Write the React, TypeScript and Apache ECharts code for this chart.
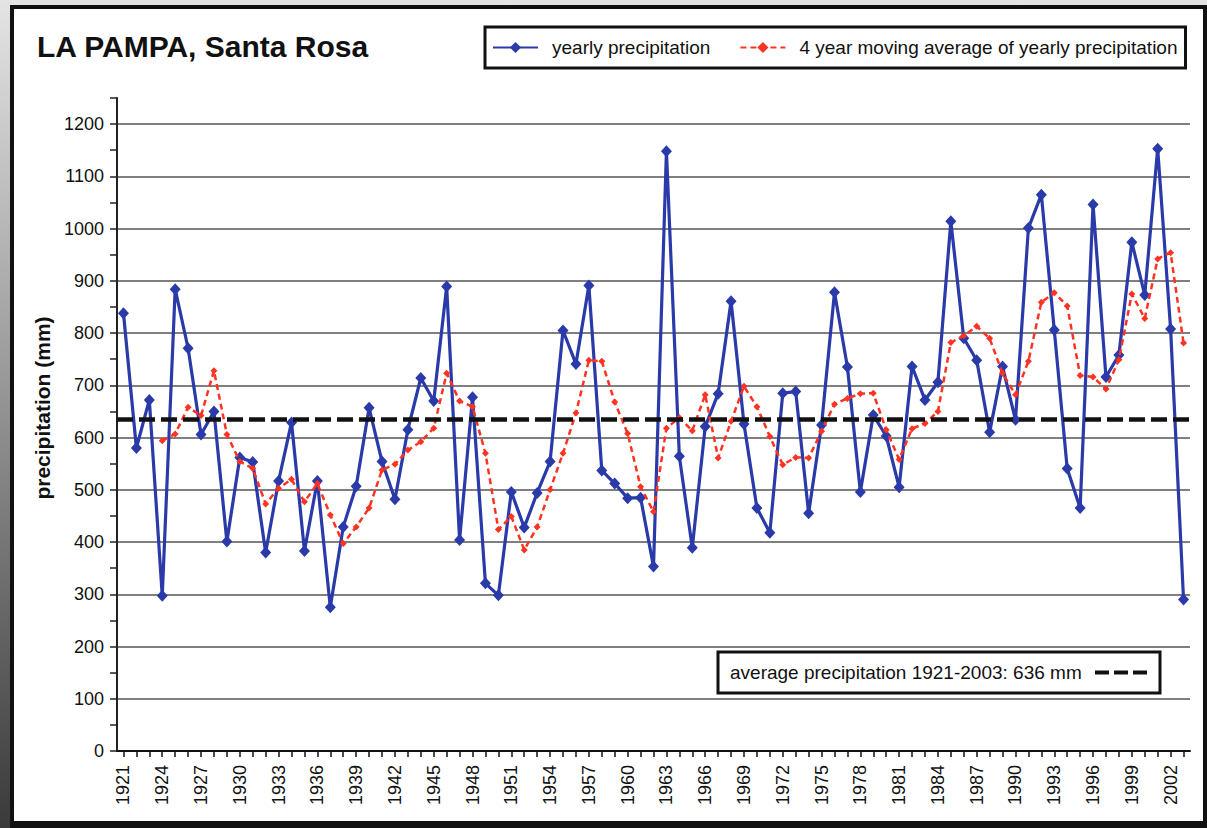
import React, { useEffect, useRef } from "react";
import * as echarts from "echarts";

const years = [
  "1921", "1922", "1923", "1924", "1925", "1926", "1927", "1928", "1929", "1930",
  "1931", "1932", "1933", "1934", "1935", "1936", "1937", "1938", "1939", "1940",
  "1941", "1942", "1943", "1944", "1945", "1946", "1947", "1948", "1949", "1950",
  "1951", "1952", "1953", "1954", "1955", "1956", "1957", "1958", "1959", "1960",
  "1961", "1962", "1963", "1964", "1965", "1966", "1967", "1968", "1969", "1970",
  "1971", "1972", "1973", "1974", "1975", "1976", "1977", "1978", "1979", "1980",
  "1981", "1982", "1983", "1984", "1985", "1986", "1987", "1988", "1989", "1990",
  "1991", "1992", "1993", "1994", "1995", "1996", "1997", "1998", "1999", "2000",
  "2001", "2002", "2003",
];

const yearlyPrecipitation = [
  838, 580, 672, 297, 884, 771, 606, 650, 401, 562,
  553, 380, 517, 629, 383, 517, 275, 429, 507, 657,
  554, 482, 615, 714, 670, 889, 404, 677, 321, 298,
  496, 428, 494, 554, 805, 741, 891, 537, 512, 484,
  485, 353, 1148, 564, 389, 621, 684, 861, 626, 465,
  418, 685, 688, 455, 624, 878, 735, 496, 643, 603,
  505, 736, 672, 706, 1014, 790, 748, 610, 736, 634,
  1001, 1065, 806, 541, 465, 1046, 716, 758, 974, 873,
  1153, 808, 290,
];

const movingAverage = [
  null, null, null, 594, 607, 658, 642, 728, 606, 554,
  541, 473, 503, 520, 477, 512, 452, 397, 429, 465,
  538, 549, 576, 592, 618, 723, 670, 659, 570, 424,
  449, 385, 429, 500, 570, 647, 748, 746, 668, 608,
  506, 458, 618, 638, 613, 682, 561, 631, 698, 659,
  602, 548, 562, 561, 612, 664, 675, 684, 685, 615,
  558, 617, 627, 650, 782, 795, 813, 790, 723, 682,
  746, 859, 877, 852, 719, 716, 693, 749, 875, 828,
  942, 954, 781,
];

const averagePrecipitation = 636;

const titleText = "LA PAMPA, Santa Rosa";
const seriesYearlyName = "yearly precipitation";
const seriesAverageName = "4 year moving average of yearly precipitation";
const yAxisName = "precipitation (mm)";
const averageLabel = "average precipitation 1921-2003: 636 mm";

const FONT = '"Liberation Sans", Arial, Helvetica, sans-serif';
const BLUE = "#2a3aa8";
const RED = "#ff3322";
const INK = "#111111";

export default function App() {
  const ref = useRef<HTMLDivElement>(null);

  useEffect(() => {
    if (!ref.current) return;
    const chart = echarts.init(ref.current, null, { renderer: "svg" });
    chart.setOption({
      animation: false,
      backgroundColor: "#ffffff",
      title: {
        text: titleText,
        left: 23,
        top: 22,
        padding: 0,
        textStyle: { fontFamily: FONT, fontSize: 30, fontWeight: "bold", color: INK },
      },
      legend: {
        data: [seriesYearlyName, seriesAverageName],
        left: 471,
        top: 18,
        orient: "horizontal",
        padding: [11, 8, 11, 7],
        borderColor: INK,
        borderWidth: 3,
        backgroundColor: "#ffffff",
        itemWidth: 45,
        itemHeight: 14,
        itemGap: 29,
        textStyle: { fontFamily: FONT, fontSize: 19, color: INK, padding: [0, 0, 0, 9] },
      },
      grid: { left: 103, right: 13, top: 89, bottom: 70, containLabel: false },
      xAxis: {
        type: "category",
        data: years,
        boundaryGap: true,
        axisLine: { show: true, lineStyle: { color: INK, width: 2 } },
        axisTick: {
          show: true,
          alignWithLabel: true,
          interval: 0,
          length: 6,
          lineStyle: { color: INK, width: 1.5 },
        },
        axisLabel: {
          interval: 2,
          rotate: 90,
          margin: 14,
          fontSize: 18,
          fontFamily: FONT,
          color: INK,
        },
        splitLine: { show: false },
      },
      yAxis: [
        {
          type: "value",
          min: 0,
          max: 1250,
          interval: 50,
          axisLine: { show: true, lineStyle: { color: "#222", width: 2 } },
          axisTick: { show: true, length: 7, lineStyle: { color: "#222", width: 1.5 } },
          axisLabel: {
            margin: 13,
            fontSize: 18,
            fontFamily: FONT,
            color: INK,
            formatter: (v: number) => (v % 100 === 0 && v <= 1200 ? String(v) : ""),
          },
          splitLine: { show: false },
        },
        {
          type: "value",
          min: 0,
          max: 1250,
          interval: 100,
          position: "left",
          axisLine: { show: false },
          axisTick: { show: false },
          axisLabel: { show: false },
          splitLine: {
            show: true,
            showMinLine: false,
            showMaxLine: false,
            lineStyle: { color: "#555", width: 1.5 },
          },
        },
      ],
      series: [
        {
          name: seriesYearlyName,
          type: "line",
          data: yearlyPrecipitation,
          yAxisIndex: 0,
          symbol: "diamond",
          symbolSize: [11, 12],
          showAllSymbol: true,
          lineStyle: { color: BLUE, width: 3.2 },
          itemStyle: { color: BLUE },
          z: 3,
          markLine: {
            silent: true,
            symbol: "none",
            label: { show: false },
            lineStyle: { color: INK, width: 4.5, type: [16, 6] },
            data: [{ yAxis: averagePrecipitation }],
          },
        },
        {
          name: seriesAverageName,
          type: "line",
          data: movingAverage,
          yAxisIndex: 0,
          symbol: "diamond",
          symbolSize: 7,
          showAllSymbol: true,
          connectNulls: false,
          lineStyle: { color: RED, width: 2.5, type: [6, 4] },
          itemStyle: { color: RED },
          z: 4,
        },
      ],
      graphic: [
        {
          type: "text",
          x: 28,
          y: 399,
          rotation: Math.PI / 2,
          style: {
            text: yAxisName,
            fontFamily: FONT,
            fontSize: 21,
            fontWeight: "bold",
            fill: INK,
            align: "center",
            verticalAlign: "middle",
          },
        },
        {
          type: "group",
          x: 704,
          y: 643,
          children: [
            {
              type: "rect",
              shape: { x: 0, y: 0, width: 442, height: 41 },
              style: { fill: "#ffffff", stroke: INK, lineWidth: 3 },
            },
            {
              type: "text",
              x: 12,
              y: 20.5,
              style: {
                text: averageLabel,
                fontFamily: FONT,
                fontSize: 19,
                fill: INK,
                align: "left",
                verticalAlign: "middle",
              },
            },
            {
              type: "line",
              shape: { x1: 377, y1: 20.5, x2: 429, y2: 20.5 },
              style: { stroke: INK, lineWidth: 4, lineDash: [14, 5] },
            },
          ],
        },
      ],
    });
    return () => chart.dispose();
  }, []);

  return (
    <div
      style={{
        position: "fixed",
        left: 0,
        top: 0,
        width: 1207,
        height: 828,
        overflow: "hidden",
        background: "linear-gradient(180deg, #e4e4e4 0%, #9a9a9a 45%, #3a3a3a 100%)",
      }}
    >
      <div
        style={{
          position: "absolute",
          left: 10,
          top: 5,
          width: 1197,
          height: 823,
          boxSizing: "border-box",
          border: "4px solid #111",
          borderBottomWidth: 7,
          background: "#ffffff",
        }}
      >
        <div ref={ref} style={{ width: 1189, height: 812 }} />
      </div>
    </div>
  );
}
